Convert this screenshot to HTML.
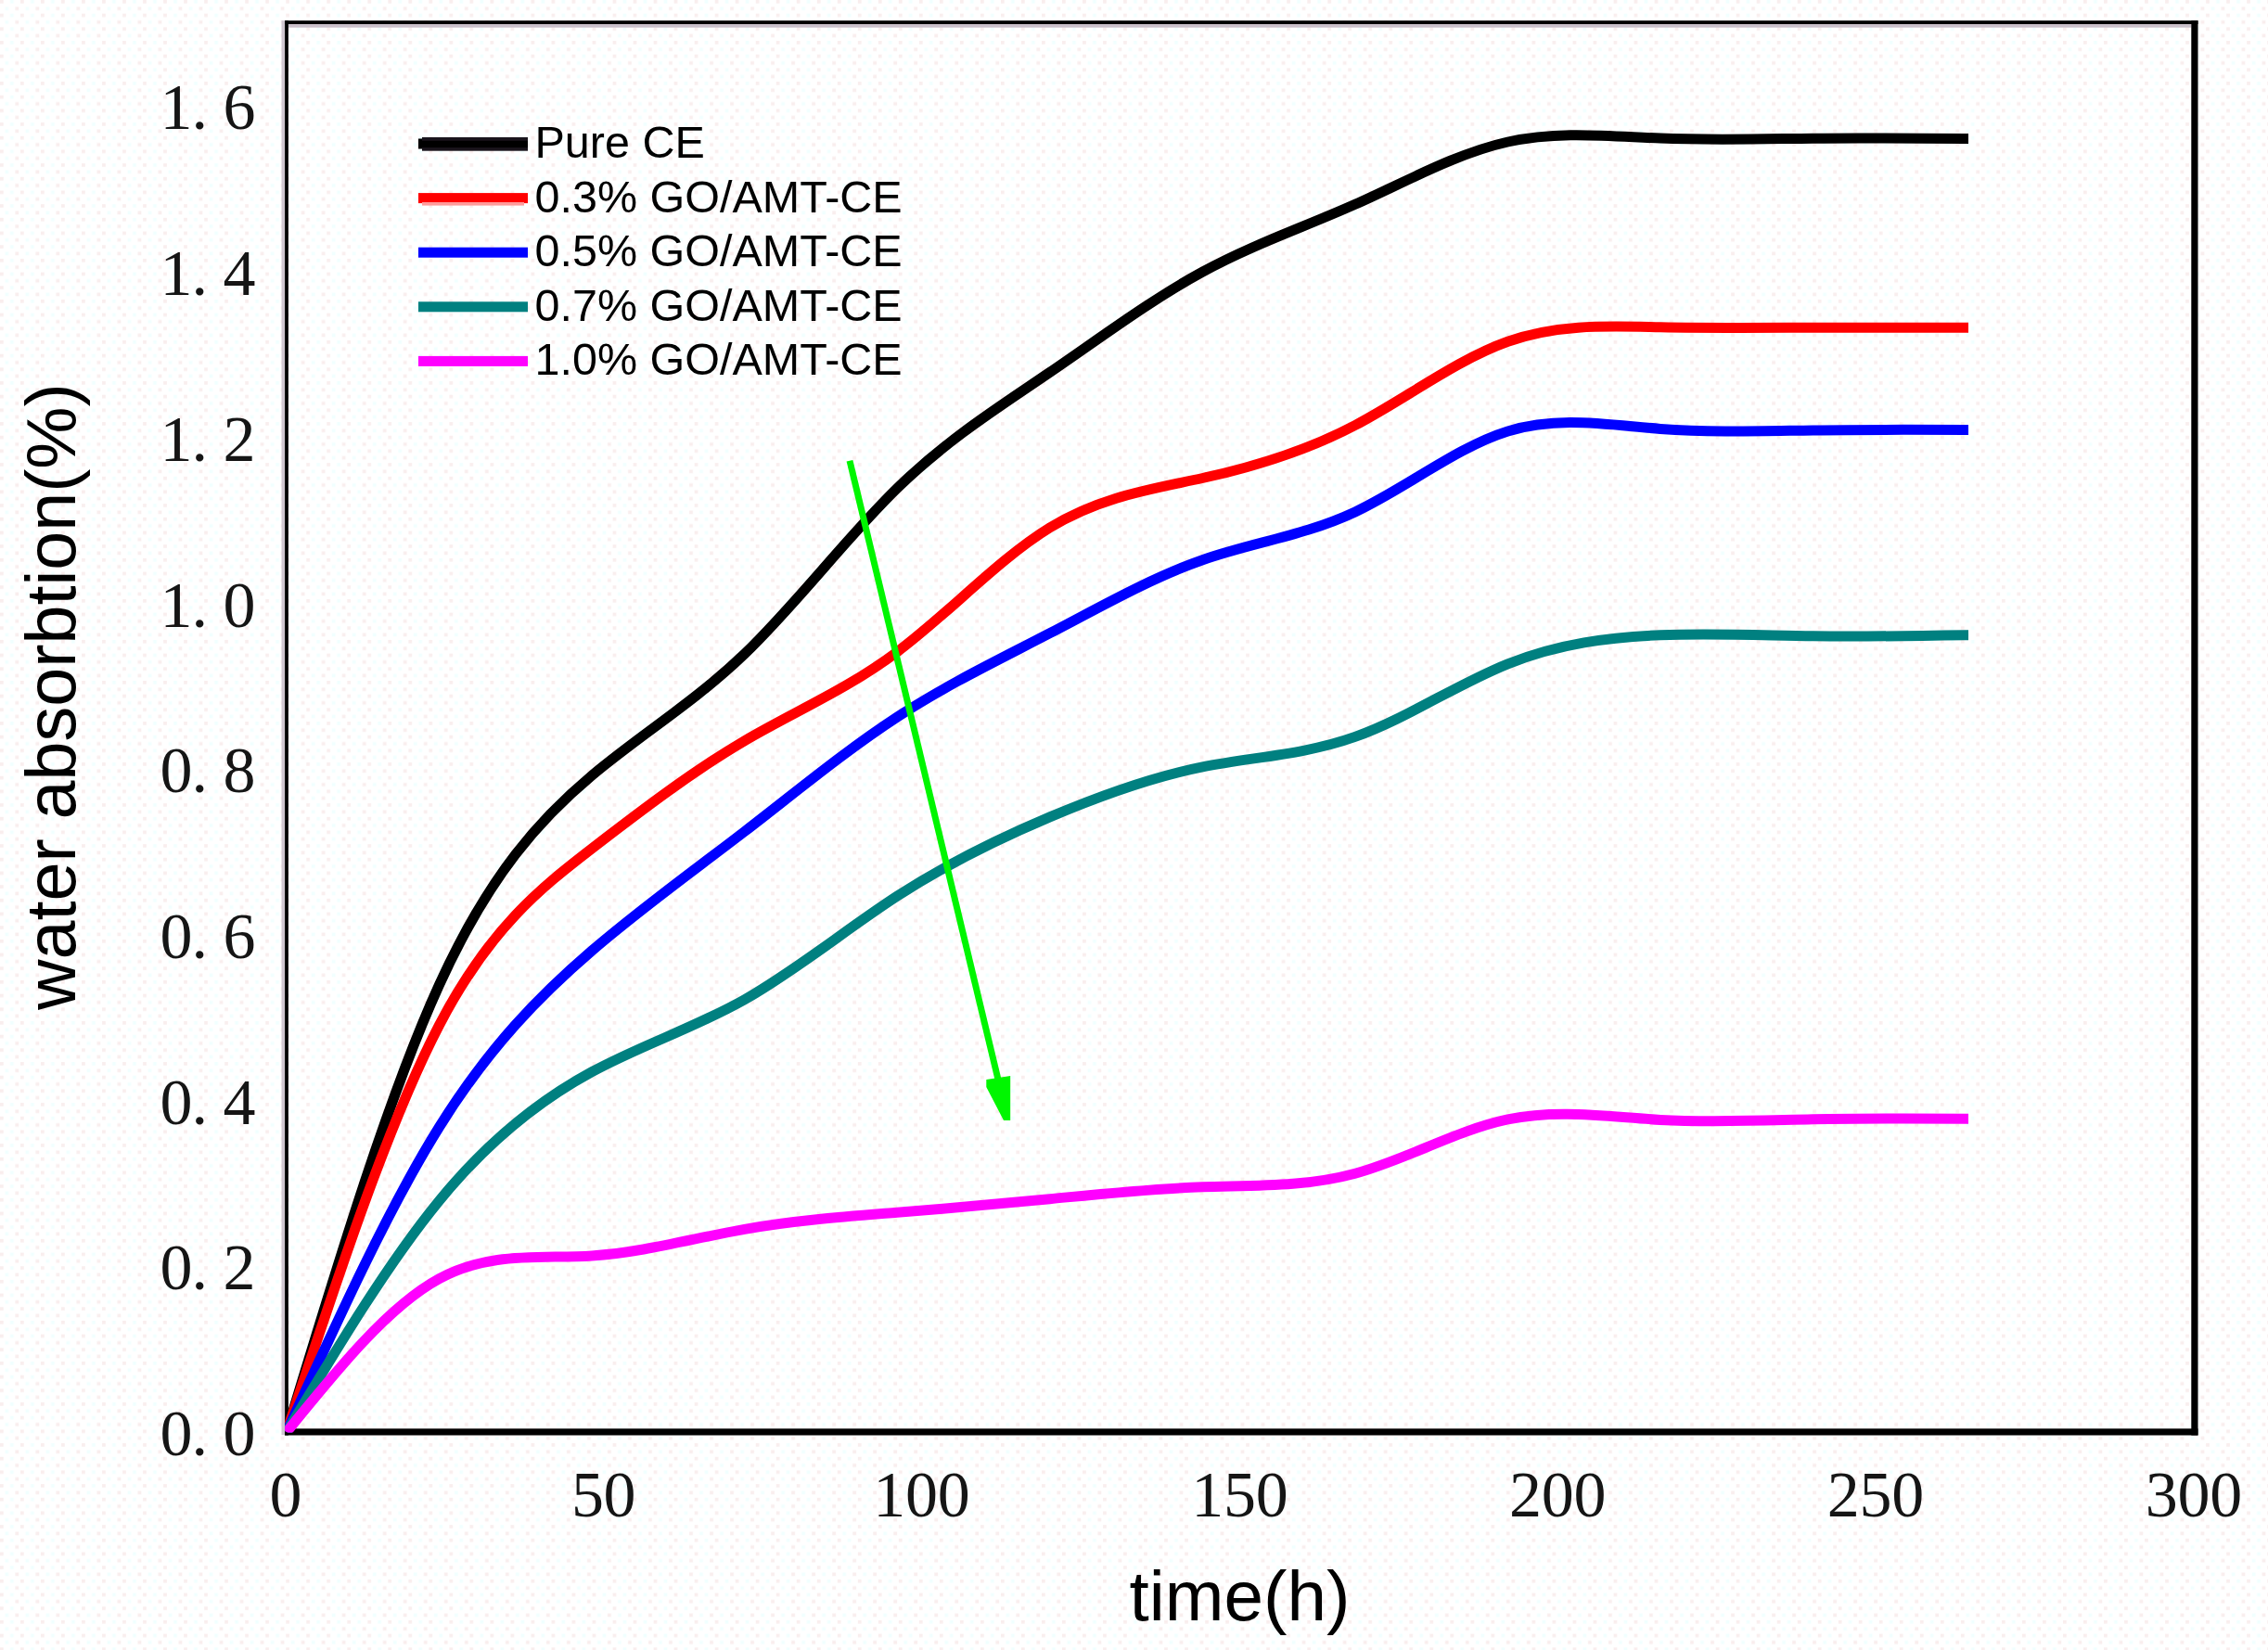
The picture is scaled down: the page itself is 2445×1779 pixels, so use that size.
<!DOCTYPE html>
<html><head><meta charset="utf-8"><title>water absorbtion</title>
<style>
html,body{margin:0;padding:0;background:#fefefe;}
body{width:2445px;height:1779px;overflow:hidden;}
svg{display:block;}
.tk{font-family:"Liberation Serif",serif;font-size:70px;fill:#151515;}
.lg{font-family:"Liberation Sans",sans-serif;font-size:48.5px;fill:#000;}
.ti{font-family:"Liberation Sans",sans-serif;font-size:75.5px;fill:#000;}
</style></head><body>
<svg width="2445" height="1779" viewBox="0 0 2445 1779">
<defs><pattern id="dz" width="22.02" height="14.68" patternUnits="userSpaceOnUse">
<rect width="22.02" height="14.68" fill="#ffffff"/>
<rect x="0" y="0" width="3.67" height="3.67" fill="#f9eeee"/>
<rect x="11.01" y="0" width="3.67" height="3.67" fill="#f1ffff"/>
<rect x="5.5" y="7.34" width="3.67" height="3.67" fill="#f1ffff"/>
<rect x="16.5" y="7.34" width="3.67" height="3.67" fill="#f9eeee"/>
</pattern></defs>
<rect x="0" y="0" width="2445" height="1779" fill="url(#dz)"/>
<rect x="303.5" y="22.2" width="3.7" height="1525" fill="#cfc6cf"/>
<rect x="310.9" y="26" width="2051.5" height="3.7" fill="#c9bfc9"/>
<rect x="307.1" y="22.2" width="3.8" height="1525.3" fill="#000"/>
<rect x="307.1" y="22.2" width="2062.4" height="3.8" fill="#000"/>
<rect x="2362.3" y="22.2" width="7.2" height="1525.3" fill="#000"/>
<rect x="307.1" y="1540.3" width="2062.4" height="7.2" fill="#000"/>
<clipPath id="plotclip"><rect x="307.1" y="26" width="2056" height="1518.5"/></clipPath>
<g clip-path="url(#plotclip)">
<path fill="none" stroke="#000000" stroke-width="11.0" d="M309.0 1544.0 C363.9 1362.9 418.7 1181.8 473.6 1061.6 C528.4 941.4 583.3 882.0 638.1 836.1 C693.0 790.2 747.8 757.6 802.7 705.0 C857.5 652.4 912.4 579.8 967.2 526.4 C1022.1 473.0 1076.9 438.9 1131.8 401.4 C1186.7 363.9 1241.5 322.9 1296.4 293.1 C1351.2 263.3 1406.1 244.8 1460.9 220.3 C1515.8 195.8 1570.6 165.2 1625.5 153.0 C1680.3 140.8 1735.2 146.9 1790.0 149.1 C1844.9 151.3 1899.7 149.8 1954.6 149.2 C2009.5 148.6 2064.3 149.1 2119.2 149.6 L2122 149.6"/>
<path fill="none" stroke="#ff0000" stroke-width="11.0" d="M309.0 1544.0 C363.9 1377.0 418.7 1210.1 473.6 1105.1 C528.4 1000.1 583.3 957.1 638.1 914.8 C693.0 872.5 747.8 830.9 802.7 798.7 C857.5 766.5 912.4 743.8 967.2 702.8 C1022.1 661.8 1076.9 602.5 1131.8 568.9 C1186.7 535.3 1241.5 527.5 1296.4 515.5 C1351.2 503.5 1406.1 487.4 1460.9 458.5 C1515.8 429.6 1570.6 387.8 1625.5 368.3 C1680.3 348.8 1735.2 351.7 1790.0 352.8 C1844.9 353.9 1899.7 353.4 1954.6 353.2 C2009.5 353.0 2064.3 353.2 2119.2 353.3 L2122 353.3"/>
<path fill="none" stroke="#0000ff" stroke-width="11.0" d="M309.0 1544.0 C363.9 1423.4 418.7 1302.8 473.6 1215.0 C528.4 1127.2 583.3 1072.1 638.1 1025.0 C693.0 977.9 747.8 938.8 802.7 896.5 C857.5 854.2 912.4 808.8 967.2 773.1 C1022.1 737.4 1076.9 711.3 1131.8 682.7 C1186.7 654.1 1241.5 622.8 1296.4 603.7 C1351.2 584.6 1406.1 577.6 1460.9 551.9 C1515.8 526.2 1570.6 481.9 1625.5 464.9 C1680.3 447.9 1735.2 458.2 1790.0 462.4 C1844.9 466.6 1899.7 464.7 1954.6 463.9 C2009.5 463.1 2064.3 463.3 2119.2 463.5 L2122 463.5"/>
<path fill="none" stroke="#008080" stroke-width="11.0" d="M309.0 1544.0 C363.9 1452.6 418.7 1361.2 473.6 1294.4 C528.4 1227.6 583.3 1185.4 638.1 1155.7 C693.0 1126.0 747.8 1108.7 802.7 1077.7 C857.5 1046.7 912.4 1001.8 967.2 966.2 C1022.1 930.6 1076.9 904.1 1131.8 880.9 C1186.7 857.7 1241.5 837.8 1296.4 826.9 C1351.2 816.0 1406.1 813.9 1460.9 794.4 C1515.8 774.9 1570.6 737.8 1625.5 715.8 C1680.3 693.8 1735.2 686.9 1790.0 684.7 C1844.9 682.5 1899.7 685.0 1954.6 685.8 C2009.5 686.6 2064.3 685.7 2119.2 684.8 L2122 684.8"/>
<path fill="none" stroke="#ff00ff" stroke-width="11.0" d="M309.0 1544.0 C363.9 1476.1 418.7 1408.3 473.6 1378.6 C528.4 1348.9 583.3 1357.4 638.1 1353.9 C693.0 1350.4 747.8 1335.0 802.7 1325.3 C857.5 1315.6 912.4 1311.7 967.2 1307.3 C1022.1 1302.9 1076.9 1298.0 1131.8 1292.7 C1186.7 1287.4 1241.5 1281.6 1296.4 1279.8 C1351.2 1278.0 1406.1 1280.1 1460.9 1265.2 C1515.8 1250.3 1570.6 1218.4 1625.5 1206.9 C1680.3 1195.4 1735.2 1204.3 1790.0 1207.4 C1844.9 1210.5 1899.7 1208.0 1954.6 1206.8 C2009.5 1205.6 2064.3 1205.9 2119.2 1206.2 L2122 1206.2"/>
</g>
<line x1="916" y1="496.7" x2="1077" y2="1168" stroke="#00f600" stroke-width="7"/>
<polygon points="1063.3,1164 1089.2,1160 1089.2,1208 1082,1208 1063.3,1172" fill="#00f600"/>
<rect x="451" y="149.5" width="118" height="11" fill="#000000"/>
<rect x="455" y="148" width="114" height="14.7" fill="#1a141c"/>
<rect x="451" y="151.7" width="118" height="7.4" fill="#000"/>
<text class="lg" x="576.5" y="170.0">Pure CE</text>
<rect x="451" y="208.1" width="118" height="11" fill="#ff0000"/>
<rect x="455" y="218" width="110" height="3.6" fill="#ff9a9a"/>
<text class="lg" x="576.5" y="228.6">0.3% GO/AMT-CE</text>
<rect x="451" y="266.7" width="118" height="11" fill="#0000ff"/>
<text class="lg" x="576.5" y="287.2">0.5% GO/AMT-CE</text>
<rect x="451" y="325.3" width="118" height="11" fill="#008080"/>
<text class="lg" x="576.5" y="345.8">0.7% GO/AMT-CE</text>
<rect x="451" y="383.9" width="118" height="11" fill="#ff00ff"/>
<text class="lg" x="576.5" y="404.4">1.0% GO/AMT-CE</text>
<text class="tk" x="172.5 206.5 240.5" y="1568.8">0.0</text>
<text class="tk" x="172.5 206.5 240.5" y="1390.1">0.2</text>
<text class="tk" x="172.5 206.5 240.5" y="1211.5">0.4</text>
<text class="tk" x="172.5 206.5 240.5" y="1032.8">0.6</text>
<text class="tk" x="172.5 206.5 240.5" y="854.1">0.8</text>
<text class="tk" x="172.5 206.5 240.5" y="675.5">1.0</text>
<text class="tk" x="172.5 206.5 240.5" y="496.8">1.2</text>
<text class="tk" x="172.5 206.5 240.5" y="318.1">1.4</text>
<text class="tk" x="172.5 206.5 240.5" y="139.4">1.6</text>
<text class="tk" x="290.4" y="1635.4">0</text>
<text class="tk" x="615.9 650.6" y="1635.4">50</text>
<text class="tk" x="941.3 976.1 1010.8" y="1635.4">100</text>
<text class="tk" x="1284.2 1318.9 1353.7" y="1635.4">150</text>
<text class="tk" x="1627.0 1661.8 1696.5" y="1635.4">200</text>
<text class="tk" x="1969.8 2004.6 2039.3" y="1635.4">250</text>
<text class="tk" x="2312.7 2347.4 2382.2" y="1635.4">300</text>
<text class="ti" x="1217.5" y="1746.5" textLength="238" lengthAdjust="spacingAndGlyphs">time(h)</text>
<text class="ti" transform="translate(80.5,1089) rotate(-90)" x="0" y="0">water absorbtion(%)</text>
</svg>
</body></html>
